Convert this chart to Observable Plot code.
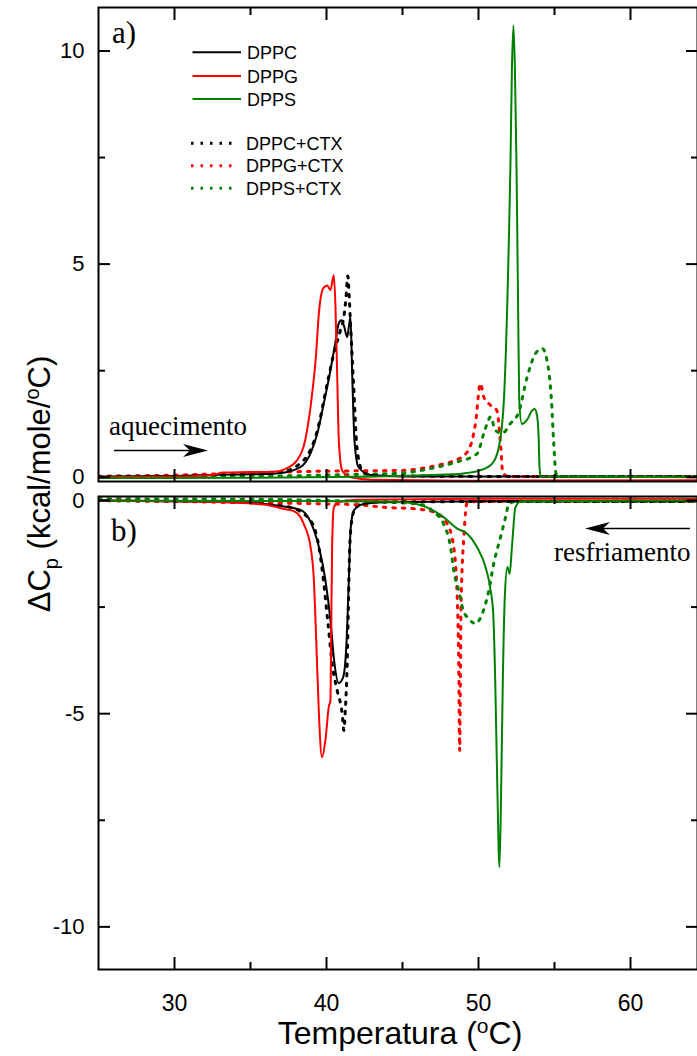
<!DOCTYPE html>
<html><head><meta charset="utf-8">
<script src="https://cdn.jsdelivr.net/npm/d3@7"></script>
<script src="https://cdn.jsdelivr.net/npm/@observablehq/plot@0.6"></script>
<style>
body{margin:0;background:#fff;overflow:hidden}
#wrap{position:relative;width:697px;height:1056px;overflow:hidden;background:#fff}
#pa,#pb{position:absolute;left:0}
#pa{top:0}
#pb{top:485px}
#ann{position:absolute;left:0;top:0;pointer-events:none}
</style></head><body>
<div id="wrap"><div id="pa"></div><div id="pb"></div><svg id="ann" width="697" height="1056"></svg></div>
<script>
// ---- tick values ----
const xMajor = [30, 40, 50, 60];
const xMinor = [35, 45, 55];
const yMajorA = [0, 5, 10];
const yMinorA = [2.5, 7.5];
const yMajorB = [0, -5, -10];
const yMinorB = [-2.5, -7.5];

// ---- series names / colours ----
const seriesNames = ["DPPC", "DPPG", "DPPS", "DPPC+CTX", "DPPG+CTX", "DPPS+CTX"];
const seriesColors = ["#000000", "#ff0000", "#008000", "#000000", "#ff0000", "#008000"];

// ---- panel a) heating ----
const T_DPPC_a = [25, 30, 33, 35, 36.5, 37.2, 38.3, 38.95, 39.4, 39.82, 40.26, 40.6, 40.8, 40.97, 41.15, 41.36, 41.5, 41.58, 41.69, 41.84, 42.1, 42.9, 45, 55, 65];
const Cp_DPPC_a = [0.02, 0.03, 0.06, 0.07, 0.08, 0.11, 0.24, 0.56, 1.03, 1.73, 2.51, 3.2, 3.6, 3.68, 3.55, 3.29, 3.6, 3.76, 2.43, 0.87, 0.24, 0.05, 0.02, 0.02, 0.02];
const T_DPPG_a = [25, 31, 32.5, 33.2, 35, 36.5, 37.2, 38.07, 38.6, 38.95, 39.3, 39.5, 39.78, 40.05, 40.26, 40.48, 40.59, 40.7, 40.81, 41.03, 41.6, 43, 50, 65];
const Cp_DPPG_a = [0.0, 0.02, 0.05, 0.11, 0.12, 0.13, 0.18, 0.4, 0.87, 1.65, 2.82, 3.85, 4.43, 4.5, 4.39, 4.74, 4.0, 2.44, 0.87, 0.16, 0.0, -0.06, -0.08, -0.07];
const T_DPPS_a = [25, 35, 42, 46.8, 49.0, 50.1, 50.9, 51.34, 51.67, 51.9, 52.0, 52.1, 52.2, 52.3, 52.4, 52.5, 52.6, 52.68, 52.85, 53.2, 53.5, 53.7, 53.85, 53.95, 54.02, 54.1, 65];
const Cp_DPPS_a = [-0.02, -0.01, 0.01, 0.05, 0.09, 0.16, 0.32, 0.71, 1.8, 4.15, 5.6, 7.3, 9.6, 10.6, 9.5, 7.3, 4.2, 1.8, 1.25, 1.35, 1.55, 1.6, 1.45, 1.0, 0.2, 0.02, 0.0];
const T_DPPC_CTX_a = [25, 30, 35, 37, 38.5, 39.4, 40.05, 40.48, 40.92, 41.14, 41.28, 41.4, 41.5, 41.58, 41.8, 42.0, 42.35, 43, 50, 65];
const Cp_DPPC_CTX_a = [0.02, 0.03, 0.07, 0.12, 0.4, 1.1, 2.2, 2.9, 3.45, 3.76, 4.2, 4.72, 4.2, 3.6, 2.04, 0.71, 0.16, 0.05, 0.02, 0.02];
const T_DPPG_CTX_a = [25, 30, 35, 38, 42, 44.9, 47.3, 48.2, 49.26, 49.8, 50.13, 50.35, 50.79, 51.2, 51.45, 51.6, 52, 65];
const Cp_DPPG_CTX_a = [0.02, 0.05, 0.1, 0.13, 0.15, 0.16, 0.28, 0.36, 0.59, 1.26, 2.2, 1.88, 1.69, 1.57, 0.79, 0.09, 0.02, 0.02];
const T_DPPS_CTX_a = [25, 35, 40, 44.9, 47.3, 48.6, 49.9, 50.35, 50.57, 50.8, 51.1, 51.56, 52.1, 52.65, 53.2, 53.75, 54.2, 54.5, 54.8, 54.95, 55.1, 55.5, 65];
const Cp_DPPS_CTX_a = [0.0, 0.02, 0.05, 0.1, 0.24, 0.36, 0.55, 1.03, 1.26, 1.42, 1.1, 1.03, 1.26, 1.53, 2.35, 2.9, 3.02, 2.75, 1.8, 0.79, 0.09, 0.02, 0.02];

// ---- panel b) cooling ----
const T_DPPC_b = [25, 30, 33.9, 36, 37.2, 38.3, 38.95, 39.5, 39.93, 40.26, 40.5, 40.8, 41.1, 41.3, 41.47, 41.58, 41.8, 42.45, 43.8, 50, 65];
const Cp_DPPC_b = [0, -0.02, -0.04, -0.08, -0.14, -0.22, -0.5, -1.09, -1.87, -2.81, -3.75, -4.28, -4.14, -3.44, -1.87, -0.7, -0.23, -0.08, -0.04, -0.02, -0.02];
const T_DPPG_b = [25, 30, 33.9, 36, 37.2, 37.85, 38.3, 38.5, 38.95, 39.17, 39.34, 39.5, 39.7, 39.93, 40.15, 40.26, 40.3, 40.37, 40.48, 40.8, 42, 50, 65];
const Cp_DPPG_b = [0, -0.02, -0.05, -0.1, -0.2, -0.25, -0.39, -0.55, -1.09, -1.87, -3.44, -5.0, -6.02, -5.62, -4.84, -4.69, -3.44, -1.09, -0.16, -0.04, 0.02, 0.04, 0.04];
const T_DPPS_b = [25, 35, 42, 45, 46.6, 47.7, 48.6, 49.26, 49.9, 50.46, 50.8, 50.97, 51.1, 51.23, 51.38, 51.5, 51.6, 51.73, 51.9, 52.05, 52.2, 52.43, 52.8, 65];
const Cp_DPPS_b = [0.0, -0.01, -0.02, -0.04, -0.16, -0.39, -0.66, -0.78, -1.09, -1.56, -2.11, -2.66, -4.22, -6.56, -8.6, -6.56, -4.22, -2.27, -1.56, -1.72, -1.09, -0.16, -0.02, 0];
const T_DPPC_CTX_b = [25, 30, 35, 37.5, 38.95, 39.5, 39.8, 40.1, 40.4, 40.7, 41.03, 41.14, 41.25, 41.36, 41.43, 41.53, 41.7, 42.0, 43, 65];
const Cp_DPPC_CTX_b = [0, -0.02, -0.05, -0.15, -0.47, -1.09, -1.87, -2.89, -3.9, -4.45, -5.0, -5.39, -4.84, -3.83, -2.66, -1.09, -0.39, -0.12, -0.03, -0.02];
const T_DPPG_CTX_b = [25, 30, 35, 40, 42, 43.8, 45.96, 47.06, 47.94, 48.37, 48.6, 48.7, 48.76, 48.85, 49.05, 49.25, 50, 65];
const Cp_DPPG_CTX_b = [0, -0.02, -0.05, -0.08, -0.1, -0.16, -0.2, -0.27, -0.55, -1.09, -2.27, -3.83, -5.86, -2.5, -0.78, -0.05, -0.02, -0.02];
const T_DPPS_CTX_b = [25, 35, 40, 43, 45.96, 47.06, 47.7, 48.16, 48.37, 48.7, 49.0, 49.36, 49.8, 50.24, 50.68, 51.0, 51.45, 51.78, 52.0, 52.5, 65];
const Cp_DPPS_CTX_b = [0.04, 0.03, 0.0, -0.03, -0.08, -0.27, -0.55, -1.09, -1.64, -2.11, -2.58, -2.77, -2.89, -2.66, -2.11, -1.48, -0.86, -0.39, -0.08, -0.02, -0.02];

const rows = (T, C) => T.map((t, i) => ({T: t, Cp: C[i]}));
const DASH = "2.5,7";

const panelA = [
  {d: rows(T_DPPC_CTX_a, Cp_DPPC_CTX_a), s: 3},
  {d: rows(T_DPPG_CTX_a, Cp_DPPG_CTX_a), s: 4},
  {d: rows(T_DPPS_CTX_a, Cp_DPPS_CTX_a), s: 5},
  {d: rows(T_DPPC_a, Cp_DPPC_a), s: 0},
  {d: rows(T_DPPG_a, Cp_DPPG_a), s: 1},
  {d: rows(T_DPPS_a, Cp_DPPS_a), s: 2}
];
const panelB = [
  {d: rows(T_DPPC_CTX_b, Cp_DPPC_CTX_b), s: 3},
  {d: rows(T_DPPG_CTX_b, Cp_DPPG_CTX_b), s: 4},
  {d: rows(T_DPPS_CTX_b, Cp_DPPS_CTX_b), s: 5},
  {d: rows(T_DPPC_b, Cp_DPPC_b), s: 0},
  {d: rows(T_DPPG_b, Cp_DPPG_b), s: 1},
  {d: rows(T_DPPS_b, Cp_DPPS_b), s: 2}
];

const lineMarks = (panel) => panel.map(p => Plot.line(p.d, {
  x: "T", y: "Cp", stroke: seriesColors[p.s],
  strokeWidth: p.s >= 3 ? 3 : 2,
  strokeDasharray: p.s >= 3 ? DASH : null,
  curve: "monotone-x", clip: true
}));

const tickMarks = (yMaj, yMin, labelX) => [
  Plot.axisX(xMajor, {anchor: "bottom", tickSize: -12, fill: "none", strokeWidth: 2, label: null}),
  Plot.axisX(xMinor, {anchor: "bottom", tickSize: -7, fill: "none", strokeWidth: 2, label: null}),
  Plot.axisX(xMajor, {anchor: "top", tickSize: -12, fill: "none", strokeWidth: 2, label: null}),
  Plot.axisX(xMinor, {anchor: "top", tickSize: -7, fill: "none", strokeWidth: 2, label: null}),
  Plot.axisY(yMaj, {anchor: "left", tickSize: -12, fill: "none", strokeWidth: 2, label: null}),
  Plot.axisY(yMin, {anchor: "left", tickSize: -7, fill: "none", strokeWidth: 2, label: null}),
  Plot.axisY(yMaj, {anchor: "right", tickSize: -12, fill: "none", strokeWidth: 2, label: null}),
  Plot.axisY(yMin, {anchor: "right", tickSize: -7, fill: "none", strokeWidth: 2, label: null}),
  Plot.axisY(yMaj, {anchor: "left", tickSize: 0, tickPadding: 14, fontSize: 22, label: null, tickFormat: d => String(d)}),
  ...(labelX ? [Plot.axisX(xMajor, {anchor: "bottom", tickSize: 0, tickPadding: 25, fontSize: 23, label: null, tickFormat: d => String(d)})] : [])
];

const style = {fontFamily: "'Liberation Sans', Arial, sans-serif", fontSize: "23px", color: "#000", background: "transparent", overflow: "hidden"};

// panel a: plot area y 7..481
const chartA = Plot.plot({
  width: 697, height: 495,
  marginLeft: 98, marginRight: 0, marginTop: 7, marginBottom: 14,
  style,
  x: {domain: [25, 65], range: [98, 706]},
  y: {domain: [-0.1, 11.02]},
  marks: [
    ...lineMarks(panelA),
    Plot.frame({strokeWidth: 2}),
    ...tickMarks(yMajorA, yMinorA, false)
  ]
});
document.getElementById("pa").appendChild(chartA);

// panel b: plot area y 496..969 (page)
const chartB = Plot.plot({
  width: 697, height: 571,
  marginLeft: 98, marginRight: 0, marginTop: 11, marginBottom: 87,
  style,
  x: {domain: [25, 65], range: [98, 706]},
  y: {domain: [-11.0, 0.094]},
  marks: [
    ...lineMarks(panelB),
    Plot.frame({strokeWidth: 2}),
    ...tickMarks(yMajorB, yMinorB, true)
  ]
});
document.getElementById("pb").appendChild(chartB);

// ---- annotations, titles, legend ----
const ann = d3.select("#ann");
const serif = "'Liberation Serif', 'Times New Roman', serif";
const sans = "'Liberation Sans', Arial, sans-serif";

ann.append("text").attr("x", 112).attr("y", 43).attr("font-family", serif).attr("font-size", 31).text("a)");
ann.append("text").attr("x", 111).attr("y", 541).attr("font-family", serif).attr("font-size", 31).text("b)");
ann.append("text").attr("x", 109).attr("y", 435).attr("font-family", serif).attr("font-size", 27).text("aquecimento");
ann.append("text").attr("x", 554).attr("y", 561).attr("font-family", serif).attr("font-size", 27).text("resfriamento");

// arrows
ann.append("line").attr("x1", 114).attr("x2", 196).attr("y1", 450.5).attr("y2", 450.5).attr("stroke", "#000").attr("stroke-width", 1.5);
ann.append("path").attr("d", "M208,450.5 L183,444 L190,450.5 L183,457 Z").attr("fill", "#000");
ann.append("line").attr("x1", 597).attr("x2", 690).attr("y1", 528.5).attr("y2", 528.5).attr("stroke", "#000").attr("stroke-width", 1.5);
ann.append("path").attr("d", "M585,528.5 L610,522 L603,528.5 L610,535 Z").attr("fill", "#000");

// y title
const yt = ann.append("text").attr("transform", "translate(50,484) rotate(-90)")
  .attr("text-anchor", "middle").attr("font-family", sans).attr("font-size", 31);
yt.append("tspan").text("\u0394C");
yt.append("tspan").attr("font-size", 20).attr("dy", 8).text("p");
yt.append("tspan").attr("dy", -8).text(" (kcal/mole/");
yt.append("tspan").attr("font-size", 20).attr("dy", -11).text("o");
yt.append("tspan").attr("dy", 11).text("C)");

// x title
const xt = ann.append("text").attr("x", 400).attr("y", 1044)
  .attr("text-anchor", "middle").attr("font-family", sans).attr("font-size", 32);
xt.append("tspan").text("Temperatura (");
xt.append("tspan").attr("font-size", 21).attr("dy", -11).text("o");
xt.append("tspan").attr("dy", 11).text("C)");

// legend
const legY = [52.3, 76, 99, 143.3, 165.7, 188.3];
seriesNames.forEach((name, i) => {
  const dotted = i >= 3;
  ann.append("line")
    .attr("x1", dotted ? 191 : 192.5).attr("x2", dotted ? 234 : 241)
    .attr("y1", legY[i]).attr("y2", legY[i])
    .attr("stroke", seriesColors[i]).attr("stroke-width", dotted ? 3 : 2)
    .attr("stroke-dasharray", dotted ? DASH : null);
  ann.append("text").attr("x", dotted ? 246 : 247).attr("y", legY[i] + 6.5)
    .attr("font-family", sans).attr("font-size", 18).text(name);
});
</script>
</body></html>
